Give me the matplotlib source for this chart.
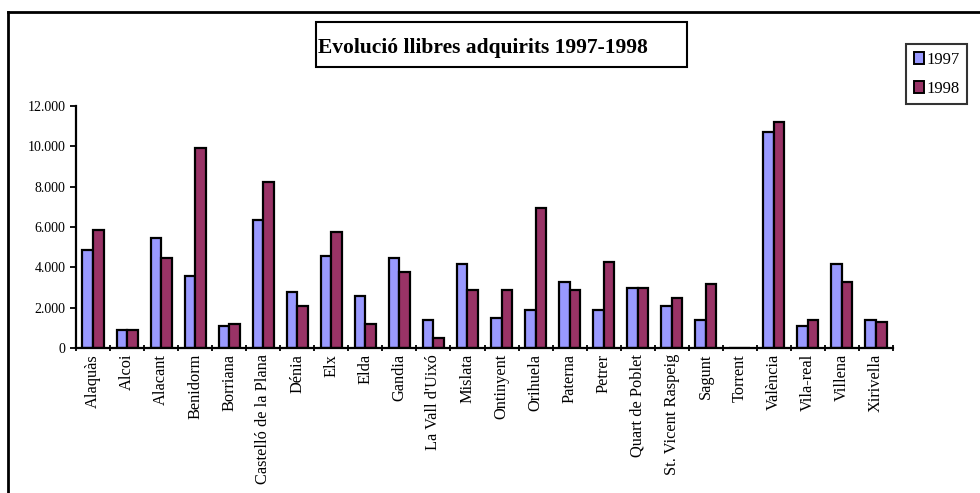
import matplotlib.pyplot as plt
import matplotlib.ticker as ticker
from matplotlib.lines import Line2D
from matplotlib.patches import Rectangle, Patch
import numpy as np

plt.rcParams['font.family'] = ['Liberation Serif', 'DejaVu Serif']

ciutats = ['Alaquàs', 'Alcoi', 'Alacant', 'Benidorm', 'Borriana',
           'Castelló de la Plana', 'Dénia', 'Elx', 'Elda', 'Gandia',
           "La Vall d'Uixó", 'Mislata', 'Ontinyent', 'Orihuela', 'Paterna',
           'Petrer', 'Quart de Poblet', 'St. Vicent Raspeig', 'Sagunt',
           'Torrent', 'València', 'Vila-real', 'Villena', 'Xirivella']
v1997 = [4850, 890, 5440, 3560, 1090, 6330, 2770, 4550, 2570, 4450,
         1390, 4150, 1480, 1880, 3260, 1880, 2970, 2080, 1390,
         0, 10680, 1090, 4150, 1390]
v1998 = [5840, 890, 4450, 9890, 1190, 8210, 2080, 5740, 1190, 3760,
         490, 2870, 2870, 6920, 2870, 4250, 2970, 2470, 3170,
         0, 11180, 1390, 3260, 1290]
anys = ['1997', '1998']
colors = ['#9999FF', '#993366']

W, H = 980, 493
fig = plt.figure(figsize=(W / 100, H / 100), dpi=100)
ax = fig.add_axes([76 / W, 1 - 348.3 / H, (893 - 76) / W, (348.3 - 105.7) / H])

x = np.arange(len(ciutats))
bw = 0.31
ax.bar(x - bw / 2, v1997, bw, color=colors[0], edgecolor='black', linewidth=1.6)
ax.bar(x + bw / 2, v1998, bw, color=colors[1], edgecolor='black', linewidth=1.6)

ax.set_xlim(-0.5, len(ciutats) - 0.5)
ax.set_ylim(0, 12000)
ax.yaxis.set_major_locator(ticker.MultipleLocator(2000))
ax.yaxis.set_major_formatter(ticker.FuncFormatter(lambda v, p: f'{int(v):,}'.replace(',', '.')))

ax.set_xticks(x)
ax.set_xticklabels(ciutats, rotation=90, fontsize=11.8)
ax.set_xticks(np.arange(-0.5, len(ciutats)), minor=True)
ax.tick_params(axis='x', which='major', length=0, pad=4)
ax.tick_params(axis='x', which='minor', length=4, width=1.3, direction='inout')
ax.tick_params(axis='y', length=4, width=1.3, direction='out', labelsize=10)

for s in ['top', 'right']:
    ax.spines[s].set_visible(False)
for s in ['left', 'bottom']:
    ax.spines[s].set_linewidth(1.6)

# title box
fig.add_artist(Rectangle((316 / W, 1 - 66.7 / H), (687 - 316) / W, (66.7 - 22.3) / H,
                         transform=fig.transFigure, fill=False, edgecolor='black', linewidth=1.5))
fig.text(318 / W, 1 - 48 / H, 'Evolució llibres adquirits 1997-1998',
         fontsize=15.5, fontweight='bold', ha='left', va='center')

# legend
handles = [Patch(facecolor=c, edgecolor='black', linewidth=1.4) for c in colors]
leg = fig.legend(handles, anys, loc='upper left', bbox_to_anchor=(906 / W, 1 - 44 / H),
                 fontsize=12, frameon=True, fancybox=False, edgecolor='black',
                 handlelength=0.6, handleheight=0.7, handletextpad=0.15,
                 borderpad=0.45, labelspacing=0.8, borderaxespad=0)
leg.get_frame().set_linewidth(1.5)

# outer frame (left and top only visible)
fig.add_artist(Line2D([8 / W, 8 / W], [0, 1 - 12 / H], transform=fig.transFigure,
                      color='black', linewidth=2))
fig.add_artist(Line2D([8 / W, 1], [1 - 12 / H, 1 - 12 / H], transform=fig.transFigure,
                      color='black', linewidth=2))

plt.savefig('out.png', dpi=100)
